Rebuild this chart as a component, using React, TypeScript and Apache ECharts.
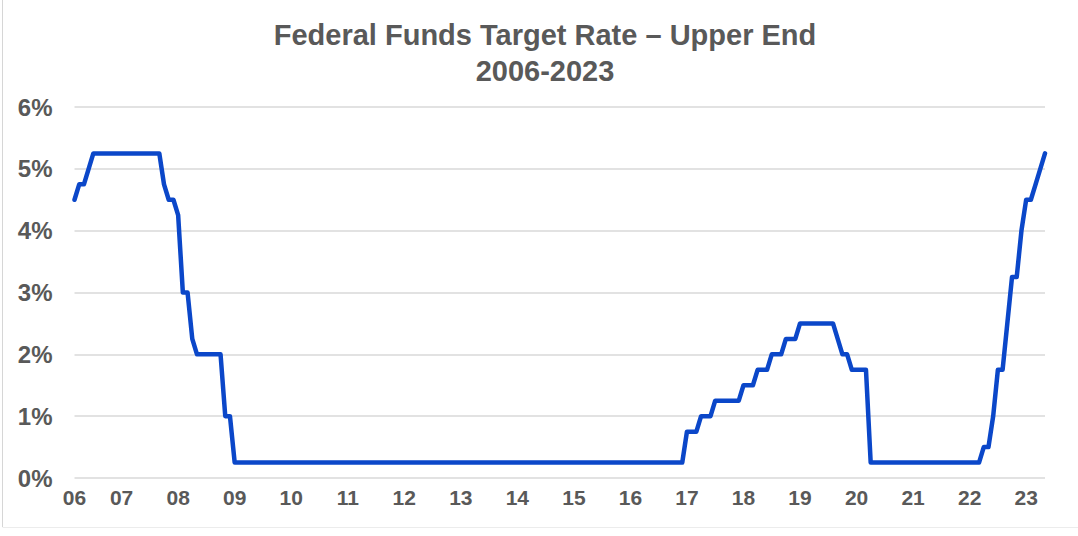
import React, { useEffect, useRef } from "react";
import * as echarts from "echarts";

// Month-start upper-end target rate, Mar 2006 .. May 2023
const startYear = 2006;
const startMonth = 3;

const rates2006 = [4.5, 4.75, 4.75, 5.0, 5.25, 5.25, 5.25, 5.25, 5.25, 5.25];
const rates2007 = [5.25, 5.25, 5.25, 5.25, 5.25, 5.25, 5.25, 5.25, 5.25, 4.75, 4.5, 4.5];
const rates2008 = [4.25, 3.0, 3.0, 2.25, 2.0, 2.0, 2.0, 2.0, 2.0, 2.0, 1.0, 1.0];
const rates2009 = [0.25, 0.25, 0.25, 0.25, 0.25, 0.25, 0.25, 0.25, 0.25, 0.25, 0.25, 0.25];
const rates2010 = [0.25, 0.25, 0.25, 0.25, 0.25, 0.25, 0.25, 0.25, 0.25, 0.25, 0.25, 0.25];
const rates2011 = [0.25, 0.25, 0.25, 0.25, 0.25, 0.25, 0.25, 0.25, 0.25, 0.25, 0.25, 0.25];
const rates2012 = [0.25, 0.25, 0.25, 0.25, 0.25, 0.25, 0.25, 0.25, 0.25, 0.25, 0.25, 0.25];
const rates2013 = [0.25, 0.25, 0.25, 0.25, 0.25, 0.25, 0.25, 0.25, 0.25, 0.25, 0.25, 0.25];
const rates2014 = [0.25, 0.25, 0.25, 0.25, 0.25, 0.25, 0.25, 0.25, 0.25, 0.25, 0.25, 0.25];
const rates2015 = [0.25, 0.25, 0.25, 0.25, 0.25, 0.25, 0.25, 0.25, 0.25, 0.25, 0.25, 0.25];
const rates2016 = [0.25, 0.25, 0.25, 0.25, 0.25, 0.25, 0.25, 0.25, 0.25, 0.25, 0.25, 0.25];
const rates2017 = [0.75, 0.75, 0.75, 1.0, 1.0, 1.0, 1.25, 1.25, 1.25, 1.25, 1.25, 1.25];
const rates2018 = [1.5, 1.5, 1.5, 1.75, 1.75, 1.75, 2.0, 2.0, 2.0, 2.25, 2.25, 2.25];
const rates2019 = [2.5, 2.5, 2.5, 2.5, 2.5, 2.5, 2.5, 2.5, 2.25, 2.0, 2.0, 1.75];
const rates2020 = [1.75, 1.75, 1.75, 0.25, 0.25, 0.25, 0.25, 0.25, 0.25, 0.25, 0.25, 0.25];
const rates2021 = [0.25, 0.25, 0.25, 0.25, 0.25, 0.25, 0.25, 0.25, 0.25, 0.25, 0.25, 0.25];
const rates2022 = [0.25, 0.25, 0.25, 0.5, 0.5, 1.0, 1.75, 1.75, 2.5, 3.25, 3.25, 4.0];
const rates2023 = [4.5, 4.5, 4.75, 5.0, 5.25];

const yTicks = [0, 1, 2, 3, 4, 5, 6];

const rates = [
  ...rates2006, ...rates2007, ...rates2008, ...rates2009, ...rates2010,
  ...rates2011, ...rates2012, ...rates2013, ...rates2014, ...rates2015,
  ...rates2016, ...rates2017, ...rates2018, ...rates2019, ...rates2020,
  ...rates2021, ...rates2022, ...rates2023,
];

const categories: string[] = [];
for (let i = 0; i < rates.length; i++) {
  const m0 = startMonth - 1 + i;
  const y = startYear + Math.floor(m0 / 12);
  const m = (m0 % 12) + 1;
  categories.push(`${y}-${m < 10 ? "0" + m : m}`);
}

const FONT = "'Liberation Sans', Arial, Helvetica, sans-serif";
const GRAY = "#595959";

export default function App() {
  const ref = useRef<HTMLDivElement>(null);
  useEffect(() => {
    if (!ref.current) return;
    const chart = echarts.init(ref.current, undefined, { renderer: "svg" });
    chart.setOption({
      animation: false,
      backgroundColor: "#ffffff",
      title: {
        text: "Federal Funds Target Rate – Upper End\n2006-2023",
        left: 540,
        top: 12,
        textAlign: "center",
        textStyle: {
          fontFamily: FONT,
          fontSize: 29,
          fontWeight: "bold",
          color: GRAY,
          lineHeight: 36,
          align: "center",
        },
      },
      grid: { left: 74.5, right: 33, top: 107, bottom: 58, containLabel: false },
      xAxis: {
        type: "category",
        data: categories,
        boundaryGap: false,
        axisLine: { show: false },
        axisTick: { show: false },
        splitLine: { show: false },
        axisLabel: {
          interval: (index: number, value: string) =>
            index === 0 || value.endsWith("-01"),
          formatter: (value: string) => value.slice(2, 4),
          fontFamily: FONT,
          fontSize: 21,
          fontWeight: "bold",
          color: GRAY,
          margin: 9,
        },
      },
      yAxis: {
        type: "value",
        min: yTicks[0],
        max: yTicks[yTicks.length - 1],
        interval: 1,
        axisLine: { show: false },
        axisTick: { show: false },
        splitLine: { lineStyle: { color: "#d9d9d9", width: 1.5 } },
        axisLabel: {
          formatter: "{value}%",
          fontFamily: FONT,
          fontSize: 24,
          fontWeight: "bold",
          color: GRAY,
          margin: 22,
        },
      },
      series: [
        {
          type: "line",
          data: rates,
          symbol: "none",
          smooth: false,
          lineStyle: { color: "#0B47C9", width: 4.5, join: "round", cap: "round" },
        },
      ],
      graphic: [
        {
          type: "line",
          shape: { x1: 2.5, y1: 0, x2: 2.5, y2: 527 },
          style: { stroke: "#d6d6d6", lineWidth: 1 },
          silent: true,
        },
        {
          type: "line",
          shape: { x1: 2.5, y1: 527.5, x2: 1078, y2: 527.5 },
          style: { stroke: "#ececec", lineWidth: 1 },
          silent: true,
        },
      ],
    });
    return () => chart.dispose();
  }, []);
  return (
    <div
      ref={ref}
      style={{ position: "fixed", left: 0, top: 0, width: 1078, height: 536 }}
    />
  );
}
